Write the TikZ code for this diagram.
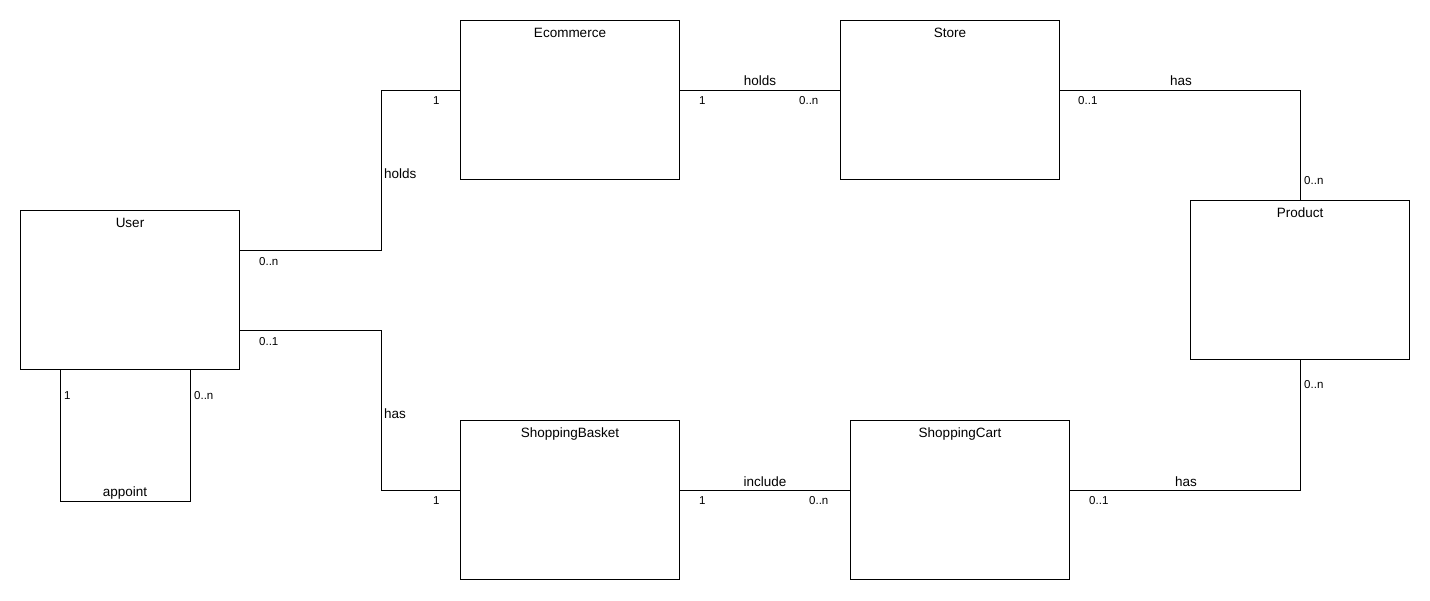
\documentclass[tikz,border=0pt]{standalone}
\usepackage{fontspec}
\setmainfont{Liberation Sans}
\usetikzlibrary{calc}
\begin{document}
\begin{tikzpicture}[x=1pt,y=-1pt,
  entity/.style={draw=black,line width=1pt,minimum width=219pt,minimum height=159pt,inner sep=0pt,anchor=north west},
  title/.style={font=\fontsize{13.5}{15}\selectfont,anchor=base,inner sep=0pt},
  rel/.style={font=\fontsize{13.5}{15}\selectfont,inner sep=0pt},
  mult/.style={font=\fontsize{11.5}{13}\selectfont,anchor=base west,inner sep=0pt},
  conn/.style={draw=black,line width=1pt}]
\useasboundingbox[fill=white] (0,0) rectangle (1430,600);
% entities
\node[entity] (ecom) at (460,20) {};
\node[entity] (store) at (840,20) {};
\node[entity] (product) at (1190,200) {};
\node[entity] (user) at (20,210) {};
\node[entity] (basket) at (460,420) {};
\node[entity] (cart) at (850,420) {};
% titles
\node[title] (tecom) at ($(ecom.north)+(0,17)$) {Ecommerce};
\node[title] (tstore) at ($(store.north)+(0,17)$) {Store};
\node[title] (tproduct) at ($(product.north)+(0,17)$) {Product};
\node[title] (tuser) at ($(user.north)+(0,17)$) {User};
\node[title] (tbasket) at ($(basket.north)+(0,17)$) {ShoppingBasket};
\node[title] (tcart) at ($(cart.north)+(0,17)$) {ShoppingCart};
% connectors
\draw[conn] ($(user.north east)+(0,40)$) -- ++(141,0) |- ($(ecom.north west)+(0,70)$);
\draw[conn] ($(user.north east)+(0,120)$) -- ++(141,0) |- ($(basket.north west)+(0,70)$);
\draw[conn] ($(user.south west)+(40,0)$) -- ++(0,131) -| ($(user.south west)+(170,0)$);
\draw[conn] ($(ecom.north east)+(0,70)$) -- ($(store.north west)+(0,70)$);
\draw[conn] ($(store.north east)+(0,70)$) -| (product.north);
\draw[conn] ($(basket.north east)+(0,70)$) -- ($(cart.north west)+(0,70)$);
\draw[conn] ($(cart.north east)+(0,70)$) -| (product.south);
% relation labels
\node[rel,anchor=base west] (lholds1) at (384,178) {holds};
\node[rel,anchor=base west] (lhas1) at (384,418) {has};
\node[rel,anchor=base] (lappoint) at (125,496) {appoint};
\node[rel,anchor=base] (lholds2) at (760,85) {holds};
\node[rel,anchor=base] (lhas2) at (1181,85) {has};
\node[rel,anchor=base] (linclude) at (765,486) {include};
\node[rel,anchor=base] (lhas3) at (1186,486) {has};
% multiplicities
\node[mult] (m1) at (259,265) {0..n};
\node[mult] (m2) at (433,104) {1};
\node[mult] (m3) at (259,345) {0..1};
\node[mult] (m4) at (433,504) {1};
\node[mult] (m5) at (64,399) {1};
\node[mult] (m6) at (194,399) {0..n};
\node[mult] (m7) at (699,104) {1};
\node[mult] (m8) at (799,104) {0..n};
\node[mult] (m9) at (1078,104) {0..1};
\node[mult] (m10) at (1304,184) {0..n};
\node[mult] (m11) at (1304,388) {0..n};
\node[mult] (m12) at (699,504) {1};
\node[mult] (m13) at (809,504) {0..n};
\node[mult] (m14) at (1089,504) {0..1};
\end{tikzpicture}
\end{document}
